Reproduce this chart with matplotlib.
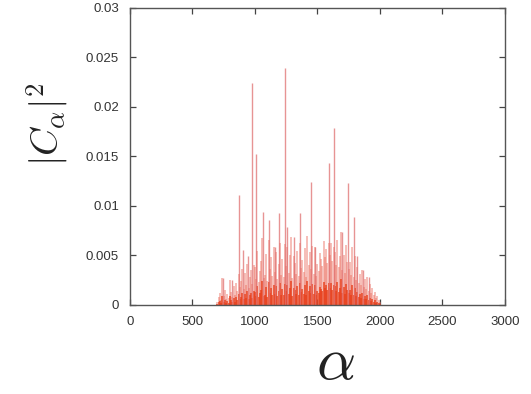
import numpy as np
import matplotlib
matplotlib.use("Agg")
import matplotlib.pyplot as plt

# ---- data ----
# dense background spectrum, alpha = 700..2000 step 10, values in units of 1e-3
bg_alpha = list(range(700, 2001, 10))
bg_values_e3 = [
    0.3, 0.8, 1.2, 0.5, 2.7, 0.9, 1.5, 0.6, 1.1, 0.7,
    2.5, 1.3, 0.8, 1.9, 1.0, 2.2, 1.4, 3.1, 1.8, 2.4,
    3.6, 1.6, 3.2, 2.0, 4.1, 1.7, 2.8, 3.5, 2.1, 4.0,
    3.8, 2.6, 5.5, 2.3, 3.4, 4.4, 6.8, 2.7, 3.0, 5.2,
    2.4, 6.6, 3.6, 4.8, 2.9, 5.9, 3.3, 5.4, 2.6, 4.1,
    6.3, 3.0, 4.6, 2.8, 6.2, 3.9, 5.9, 3.2, 5.0, 6.9,
    2.7, 4.9, 4.2, 3.1, 5.5, 2.9, 6.3, 3.7, 4.5, 3.3,
    5.8, 2.8, 7.0, 4.0, 5.4, 3.6, 6.0, 3.1, 5.9, 2.9,
    4.1, 3.4, 5.3, 4.6, 3.9, 6.5, 4.8, 5.7, 4.2, 6.3,
    5.0, 6.3, 4.4, 5.9, 5.4, 4.0, 6.6, 3.8, 4.9, 7.4,
    3.5, 5.1, 3.2, 6.1, 4.3, 3.6, 4.3, 3.0, 5.9, 2.8,
    4.9, 2.5, 3.8, 2.2, 3.1, 2.0, 3.5, 1.8, 2.6, 1.6,
    2.8, 1.4, 2.1, 1.2, 1.7, 1.0, 1.3, 0.7, 0.9, 0.5,
    0.3,
]
# prominent lines
peak_alpha = [744, 813, 875, 907, 947, 979, 1005, 1067, 1115, 1160, 1195,
              1240, 1259, 1312, 1360, 1445, 1480, 1595, 1632, 1693, 1747,
              1792, 1813, 1867, 1915]
peak_values = [0.0027, 0.0025, 0.0111, 0.0056, 0.0049, 0.0224, 0.0153, 0.0094,
               0.0086, 0.0059, 0.0093, 0.0239, 0.0079, 0.0069, 0.0093, 0.0124,
               0.0059, 0.0143, 0.0179, 0.0074, 0.0123, 0.0089, 0.0049, 0.0035,
               0.0028]

x_ticks = [0, 500, 1000, 1500, 2000, 2500, 3000]
x_ticklabels = ["0", "500", "1000", "1500", "2000", "2500", "3000"]
y_ticks = [0, 0.005, 0.01, 0.015, 0.02, 0.025, 0.03]
y_ticklabels = ["0", "0.005", "0.01", "0.015", "0.02", "0.025", "0.03"]

# ---- figure ----
plt.rcParams['mathtext.fontset'] = 'cm'
fig = plt.figure(figsize=(5.31, 3.94), dpi=100)
ax = fig.add_axes([0.2448, 0.2259, 0.951 - 0.2448, 0.9797 - 0.2259])

bg_values = np.array(bg_values_e3) * 1e-3
ax.vlines(bg_alpha, 0, bg_values, colors='#ec6a5a', alpha=0.55, linewidth=1.1)
ax.vlines(bg_alpha, 0, bg_values * 0.35, colors='#e8401c', alpha=0.8, linewidth=1.3)
ax.vlines(peak_alpha, 0, peak_values, colors='#e07070', alpha=0.75, linewidth=1.0)

ax.set_xlim(0, 3000)
ax.set_ylim(0, 0.03)
ax.set_xticks(x_ticks)
ax.set_xticklabels(x_ticklabels)
ax.set_yticks(y_ticks)
ax.set_yticklabels(y_ticklabels)

ax.tick_params(direction='in', length=4, width=0.9, color='#444444',
               top=True, right=True, labelsize=9.5, labelcolor='#333333')
ax.tick_params(axis='y', pad=8)
ax.tick_params(axis='x', pad=8)
for lab in ax.get_xticklabels() + ax.get_yticklabels():
    lab.set_family('Liberation Sans')
for s in ax.spines.values():
    s.set_color('#555555')
    s.set_linewidth(1.0)

fig.text(48 / 531, 1 - 124 / 394, r'$|C_\alpha|^2$', rotation=90, fontsize=27.5,
         ha='center', va='center', color='#222222')
fig.text(335 / 531, 1 - 363 / 394, r'$\alpha$', fontsize=44, ha='center', va='center',
         color='#222222')

fig.savefig('out.png', dpi=100)
